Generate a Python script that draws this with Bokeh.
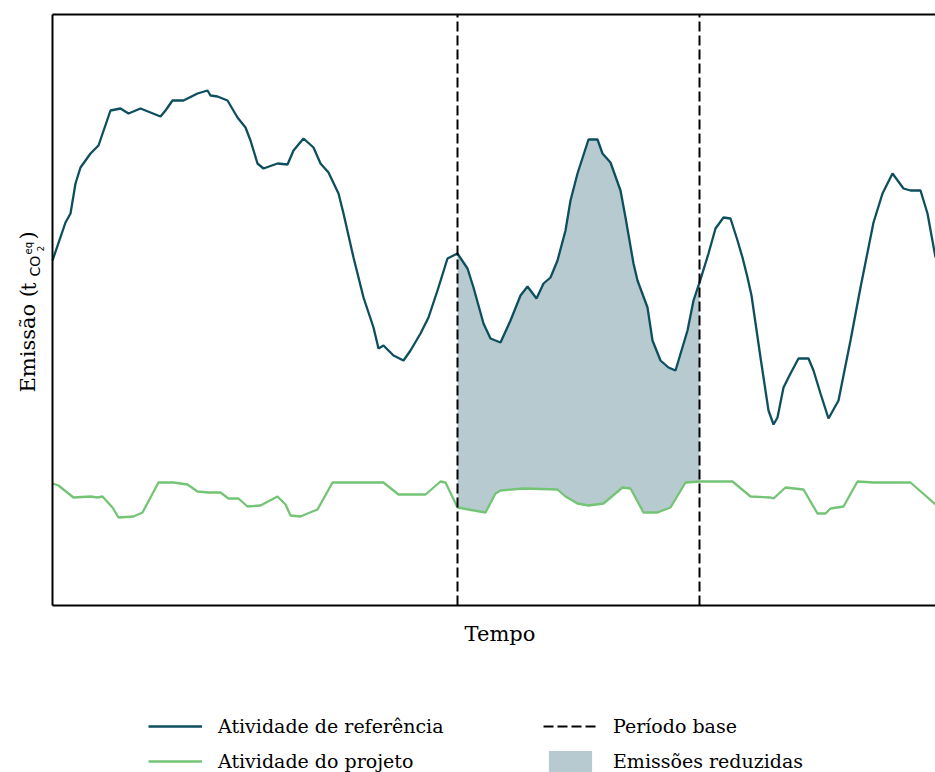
import numpy as np
from bokeh.plotting import figure
from bokeh.models import Range1d, Legend, LegendItem, Label
from bokeh.embed import file_html
from bokeh.resources import INLINE

# ---------------- data ----------------
ref_t = [0, 13, 18, 23, 28, 38, 46, 58, 68, 76, 88, 98, 108, 113, 120, 131, 145,
         155, 158, 165, 175, 185, 193, 198, 205, 211, 225, 235, 241, 251, 261,
         268, 276, 286, 291, 301, 311, 321, 326, 331, 341, 351, 358, 368, 376,
         385, 395, 405, 415, 421, 431, 438, 448, 458, 468, 475, 484, 491, 498,
         505, 513, 518, 525, 536, 545, 550, 558, 568, 573, 577, 581, 585, 595,
         600, 608, 616, 623, 635, 641, 648, 656, 663, 671, 678, 685, 690, 695,
         699, 708, 716, 721, 725, 731, 738, 746, 756, 761, 768, 776, 786, 798,
         808, 821, 830, 840, 851, 858, 868, 875, 883]
ref_e = [345, 383, 392, 422, 438, 452, 460, 495, 497, 492, 497, 493, 489, 495,
         505, 505, 512, 515, 510, 509, 505, 488, 478, 465, 442, 437, 442, 441,
         455, 467, 458, 442, 433, 412, 392, 348, 308, 278, 257, 260, 250, 245,
         255, 272, 288, 315, 347, 352, 337, 318, 282, 267, 263, 285, 310, 319,
         307, 322, 328, 345, 375, 405, 432, 466, 466, 452, 443, 415, 388, 365,
         342, 325, 298, 265, 245, 238, 235, 275, 305, 326, 352, 377, 388, 387,
         365, 348, 328, 310, 248, 195, 181, 188, 218, 232, 247, 247, 235, 212,
         187, 205, 265, 318, 383, 412, 432, 417, 415, 415, 392, 348]

proj_t = [0, 6, 21, 38, 45, 50, 60, 66, 81, 90, 106, 121, 135, 145, 156, 168,
          176, 186, 195, 208, 225, 233, 238, 248, 255, 265, 280, 331, 346, 373,
          388, 393, 405, 433, 443, 448, 471, 505, 513, 525, 536, 551, 570, 578,
          591, 605, 618, 633, 648, 680, 698, 718, 721, 733, 751, 765, 773, 778,
          791, 805, 821, 858, 883]
proj_e = [122, 120, 108, 109, 108, 109, 98, 88, 89, 93, 123, 123, 121, 114,
          113, 113, 107, 107, 99, 100, 109, 101, 90, 89, 92, 96, 123, 123, 111,
          111, 124, 123, 98, 93, 112, 115, 117, 116, 109, 102, 100, 102, 118,
          117, 93, 93, 98, 123, 124, 124, 109, 108, 107, 118, 116, 92, 92, 97,
          99, 124, 123, 123, 101]

base_period = [405, 647]

labels = ["Atividade de referência", "Atividade do projeto",
          "Período base", "Emissões reduzidas"]
x_label = "Tempo"
# y label "Emissão (t_{CO_2^{eq}})" split into its pieces
y_label_parts = ["Emissão (", "t", "CO", "eq", "2", ")"]

# axes extent (data units)
T_MAX = 883
E_MAX = 591

# -------------- derived fill --------------
lo, hi = base_period
grid = sorted(set([lo, hi] + [t for t in ref_t + proj_t if lo <= t <= hi]))
fill_top = np.interp(grid, ref_t, ref_e)
fill_bot = np.interp(grid, proj_t, proj_e)

DARK = "#0d4f5e"
GREEN = "#74c476"
FILL = "#b6cacf"
SERIF = "DejaVu Serif"
SANS = "DejaVu Sans"

# the frame covers the whole canvas; the axes box sits inside it
p = figure(width=935, height=772,
           x_range=Range1d(-52, T_MAX), y_range=Range1d(-167, E_MAX + 14),
           min_border=0, output_backend="svg", toolbar_location=None,
           x_axis_type=None, y_axis_type=None)
p.outline_line_color = None
p.xgrid.visible = False
p.ygrid.visible = False

fill_r = p.varea(x=grid, y1=fill_bot, y2=fill_top, fill_color=FILL)
ref_r = p.line(ref_t, ref_e, line_color=DARK, line_width=2.3)
proj_r = p.line(proj_t, proj_e, line_color=GREEN, line_width=2.3)
base_r = p.segment(x0=base_period, x1=base_period, y0=[0, 0],
                   y1=[E_MAX, E_MAX], line_color="black", line_width=2,
                   line_dash="10 4")
# axes spines: left, bottom, top
p.segment(x0=[0, 0, 0], y0=[0, 0, E_MAX], x1=[0, T_MAX, T_MAX],
          y1=[E_MAX, 0, E_MAX], line_color="black", line_width=2)

p.add_layout(Label(x=T_MAX / 2 + 6, y=-28, text=x_label, text_font=SERIF,
                   text_font_size="21px", text_align="center",
                   text_baseline="alphabetic", text_color="black"))

# y label pieces: (text, font, size, baseline offset left of axis, start)
pieces = [(y_label_parts[0], SERIF, "21px", -25, 213),
          (y_label_parts[1], SERIF, "20px", -24, 315),
          (y_label_parts[2], SANS, "14px", -18, 329),
          (y_label_parts[3], SANS, "10px", -24, 351),
          (y_label_parts[4], SANS, "9px", -12, 354),
          (y_label_parts[5], SERIF, "21px", -25, 366)]
for txt, fnt, size, bx, by in pieces:
    p.add_layout(Label(x=bx, y=by, text=txt, text_font=fnt,
                       text_font_size=size, angle=90, angle_units="deg",
                       text_align="left", text_baseline="alphabetic",
                       text_color="black"))

legend = Legend(items=[LegendItem(label=labels[0], renderers=[ref_r]),
                       LegendItem(label=labels[1], renderers=[proj_r]),
                       LegendItem(label=labels[2], renderers=[base_r]),
                       LegendItem(label=labels[3], renderers=[fill_r])],
                orientation="vertical", nrows=2,
                location=(148, -2), border_line_color=None,
                background_fill_alpha=0, padding=0, margin=0,
                glyph_width=54, glyph_height=26, label_standoff=16,
                label_width=316, label_height=25, spacing=9,
                label_text_font=SERIF, label_text_font_size="19px",
                label_text_color="black")
p.add_layout(legend, "center")

open("out.html", "w").write(file_html(p, INLINE))
